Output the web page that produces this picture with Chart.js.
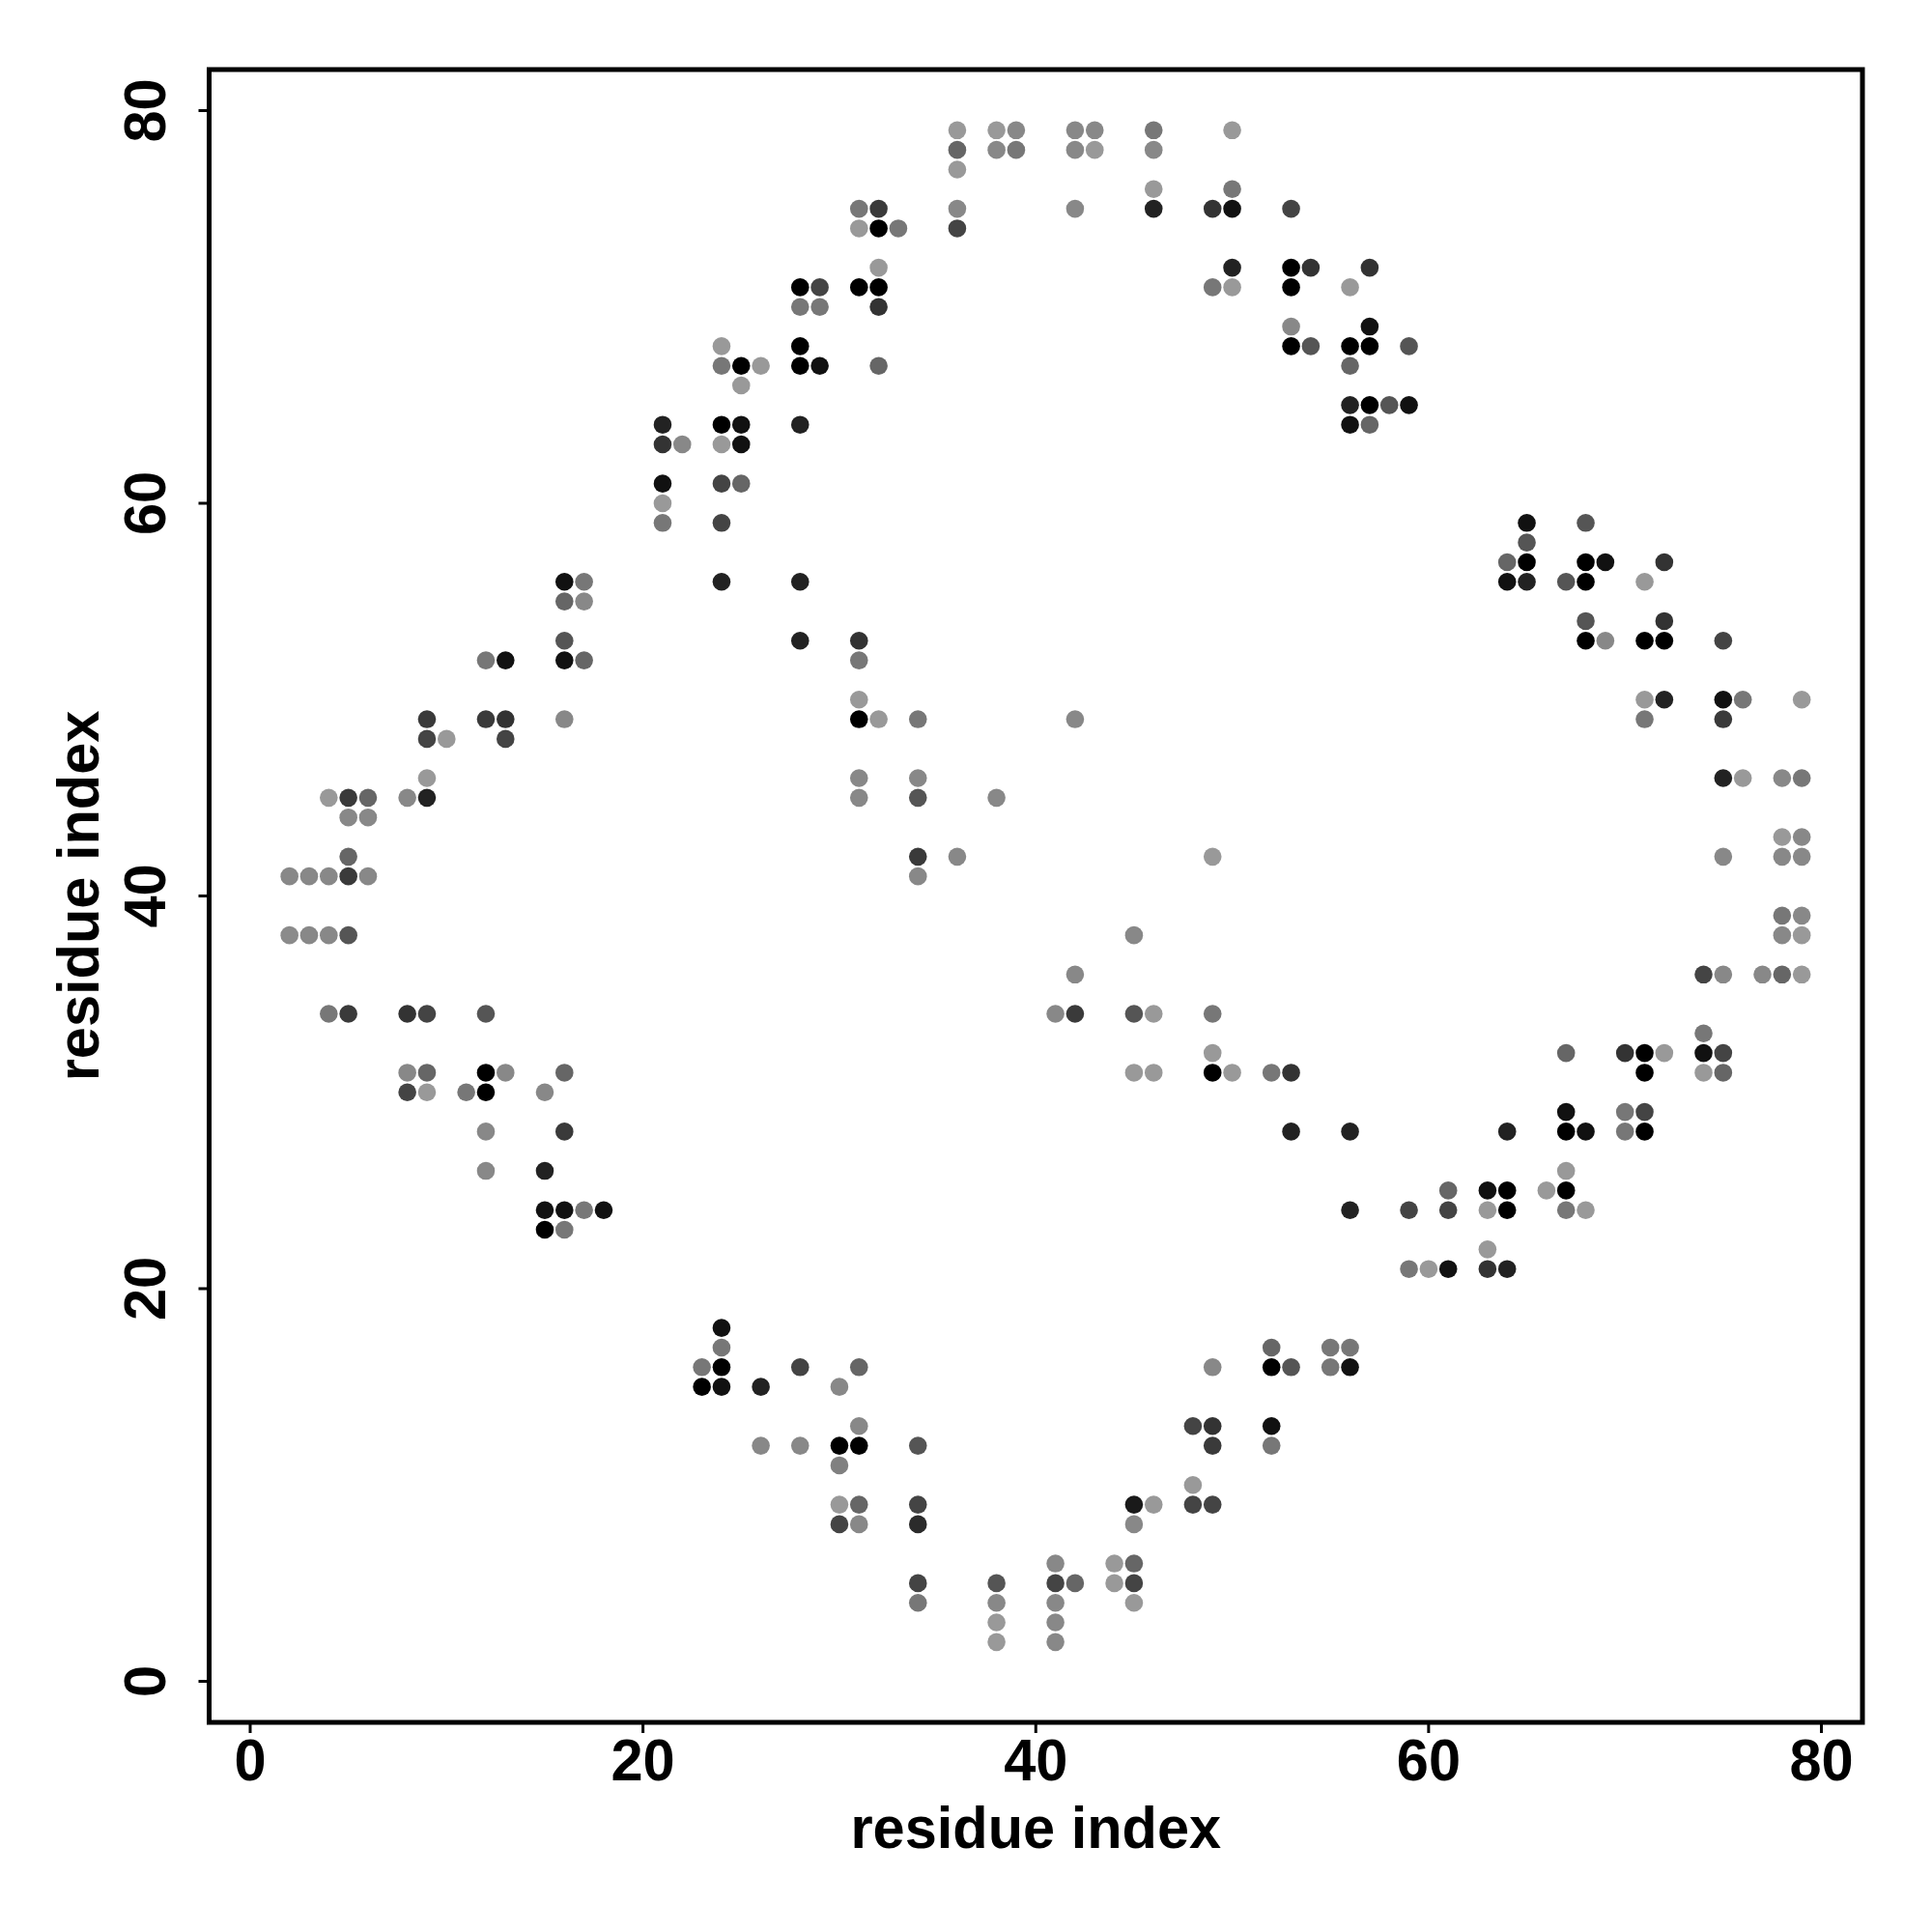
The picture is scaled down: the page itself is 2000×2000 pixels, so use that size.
<!DOCTYPE html>
<html>
<head>
<meta charset="utf-8">
<script src="https://cdn.jsdelivr.net/npm/chart.js@4"></script>
<style>
html,body{margin:0;padding:0;background:#fff;}
#wrap{width:2000px;height:2000px;}
</style>
</head>
<body>
<div id="wrap"><canvas id="c" width="2000" height="2000"></canvas></div>
<script>
// residue pairs (i = x, j = y) and contact score (darker = higher)
const residueI = [
 2,3,4,5,6,5,2,3,4,5,5,6,4,5,6,8,9,9,9,10,9,12,13,13,16,12,13,16,17,16,16,17,16,17,
 21,21,21,21,22,21,24,25,24,25,24,25,24,24,24,24,25,26,25,28,28,29,28,28,29,28,29,31,32,32,32,
 31,32,33,31,32,32,36,36,36,36,36,38,39,38,39,42,43,42,43,42,46,46,46,46,50,50,50,49,53,50,49,50,
 53,54,53,57,56,53,53,54,57,56,57,59,56,56,57,58,59,56,57,
 65,68,65,64,65,64,65,68,69,67,68,72,71,68,72,68,69,71,72,75,71,72,75,76,79,71,75,75,76,78,79,
 78,79,75,78,79,78,79,78,79,74,75,77,78,79,74,67,70,71,72,74,75,71,74,75,67,70,71,64,67,68,70,71,
 67,61,63,64,66,67,56,59,61,63,64,67,68,63,59,60,61,63,64,55,56,52,52,53,55,56,49,52,52,48,49,49,
 48,48,49,45,46,45,44,45,44,45,45,41,41,42,41,41,41,38,38,38,38,34,34,34,34,34,30,31,30,31,30,30,
 31,31,30,31,28,28,26,26,23,24,23,24,24,24,
 15,12,15,16,17,18,15,16,12,16,8,9,11,12,15,8,9,12,13,16,4,5,8,9,12,
 28,28,31,31,31,31,32,34,42,31,34,31,34,38,34,36,49,34,45,42,41,42,45,46,49,49,45,46,49,50,52,53,53,56
];
const residueJ = [
 41,41,41,41,41,42,38,38,38,38,44,44,45,45,45,45,45,46,48,48,49,49,49,48,49,52,52,52,52,53,55,55,56,56,
 59,60,61,63,63,64,63,63,64,64,61,61,59,56,68,67,67,67,66,64,67,67,68,70,70,71,71,71,71,70,72,
 74,74,74,75,75,67,74,75,77,78,79,79,79,78,78,79,79,78,78,75,79,78,76,75,79,76,75,75,75,72,71,71,
 72,72,71,72,71,69,68,68,69,68,68,68,67,65,65,65,65,64,64,
 59,59,58,57,57,56,56,57,57,56,56,57,56,54,54,53,53,53,53,53,50,50,50,50,50,49,49,46,46,46,46,
 43,43,42,42,42,39,39,38,38,36,36,36,36,36,33,32,32,32,32,32,32,31,31,31,29,29,29,28,28,28,28,28,
 26,25,25,25,25,25,24,24,24,24,24,24,24,22,21,21,21,21,21,17,17,17,16,16,16,16,16,13,12,13,13,12,
 10,9,9,9,9,8,6,6,5,5,4,6,5,5,4,3,2,5,4,3,2,5,4,9,8,12,9,9,8,8,11,12,
 12,13,15,16,16,12,12,15,16,16,15,15,17,18,
 26,26,24,24,24,24,23,23,28,28,30,30,30,30,30,31,31,31,31,31,34,34,34,34,34,
 56,53,53,52,50,49,49,49,49,46,46,45,45,45,42,42,42,41,38,36,34,34,34,34,34,32,31,31,31,31,31,31,28,28
];
const contactScore = [
 0.20,0.20,0.20,0.66,0.20,0.40,0.18,0.20,0.20,0.50,0.20,0.20,0.10,0.66,0.40,0.20,0.80,0.10,0.60,0.10,0.66,0.66,0.70,0.60,0.20,0.30,0.90,0.90,0.40,0.50,0.40,0.20,0.90,0.30,
 0.30,0.10,0.90,0.70,0.20,0.80,0.10,0.90,1.00,0.90,0.60,0.40,0.60,0.80,0.10,0.30,1.00,0.10,0.10,0.80,1.00,0.90,1.00,0.30,0.30,1.00,0.60,1.00,1.00,0.70,0.10,
 0.10,1.00,0.30,0.30,0.66,0.40,0.60,0.20,0.10,0.40,0.10,0.10,0.20,0.20,0.30,0.20,0.20,0.20,0.10,0.20,0.30,0.20,0.10,0.80,0.10,0.30,0.90,0.70,0.60,0.80,0.30,0.10,
 1.00,0.70,1.00,0.70,0.10,0.20,1.00,0.50,0.90,1.00,1.00,0.50,0.40,0.80,1.00,0.50,0.90,0.90,0.40,
 0.90,0.50,0.50,0.40,1.00,0.90,0.80,1.00,0.90,0.50,1.00,0.70,0.10,0.50,0.70,1.00,0.20,1.00,1.00,0.60,0.10,0.80,0.90,0.30,0.10,0.30,0.66,0.80,0.10,0.20,0.30,
 0.10,0.20,0.20,0.20,0.20,0.30,0.20,0.20,0.10,0.60,0.20,0.20,0.40,0.10,0.30,0.40,0.70,1.00,0.10,0.90,0.60,1.00,0.10,0.40,0.90,0.30,0.60,0.80,1.00,0.90,0.30,1.00,
 0.10,0.40,0.90,1.00,0.10,1.00,0.80,0.60,0.60,0.10,1.00,0.30,0.10,0.10,0.30,0.10,0.90,0.70,0.80,0.30,0.30,0.40,1.00,0.50,0.30,0.90,0.20,0.90,0.30,0.60,0.70,0.66,
 0.10,0.60,0.60,0.85,0.10,0.20,0.10,0.40,0.10,0.60,0.10,0.20,0.60,0.40,0.20,0.20,0.20,0.50,0.20,0.10,0.10,0.60,0.30,0.60,0.75,0.50,0.10,0.40,0.60,0.20,0.25,1.00,
 1.00,0.20,0.20,0.40,0.60,0.20,0.20,0.80,0.30,1.00,1.00,0.90,0.30,0.90,
 0.80,0.20,0.90,0.90,0.30,0.90,1.00,0.30,0.20,0.66,0.60,0.10,0.30,1.00,0.20,0.20,0.40,1.00,0.20,0.40,0.30,0.66,0.70,0.60,0.50,
 0.80,0.80,0.70,0.30,0.10,1.00,0.10,0.30,0.20,0.20,0.20,0.20,0.50,0.20,0.66,0.20,0.10,0.20,0.20,0.20,0.20,0.66,0.50,0.10,0.30,0.10,0.10,0.10,1.00,0.10,0.30,0.70,0.80,0.80
];
const tickValues = [0, 20, 40, 60, 80];
const axisTitleX = 'residue index';
const axisTitleY = 'residue index';

function shade(s){ const g = Math.round(170 * (1 - s)); return 'rgb(' + g + ',' + g + ',' + g + ')'; }

const points = residueI.map((x, k) => ({x: x, y: residueJ[k]}));
const colors = contactScore.map(shade);

const FONT = 'bold 62px "Liberation Sans", Arial, Helvetica, sans-serif';
const SQUEEZE = 0.96;

function drawText(ctx, txt, x, y, rot){
  ctx.save();
  ctx.translate(x, y);
  if (rot) ctx.rotate(rot);
  ctx.scale(SQUEEZE, 1);
  ctx.fillText(txt, 0, 0);
  ctx.restore();
}

const framePlugin = {
  id: 'frame',
  afterDraw(chart){
    const ctx = chart.ctx, a = chart.chartArea;
    const xs = chart.scales.x, ys = chart.scales.y;
    ctx.save();
    ctx.strokeStyle = '#000';
    ctx.fillStyle = '#000';
    ctx.lineWidth = 5;
    ctx.lineJoin = 'miter';
    ctx.strokeRect(a.left, a.top, a.right - a.left, a.bottom - a.top);
    ctx.lineWidth = 3;
    ctx.font = FONT;
    ctx.textAlign = 'center';
    ctx.textBaseline = 'alphabetic';
    tickValues.forEach(v => {
      const px = xs.getPixelForValue(v);
      ctx.beginPath(); ctx.moveTo(px, a.bottom); ctx.lineTo(px, a.bottom + 11); ctx.stroke();
      drawText(ctx, String(v), px, 1843, 0);
    });
    tickValues.forEach(v => {
      const py = ys.getPixelForValue(v);
      ctx.beginPath(); ctx.moveTo(a.left, py); ctx.lineTo(a.left - 11, py); ctx.stroke();
      drawText(ctx, String(v), 171, py, -Math.PI / 2);
    });
    drawText(ctx, axisTitleX, (a.left + a.right) / 2, 1913, 0);
    drawText(ctx, axisTitleY, 102, (a.top + a.bottom) / 2, -Math.PI / 2);
    ctx.restore();
  }
};

new Chart(document.getElementById('c'), {
  type: 'scatter',
  data: {
    datasets: [{
      data: points,
      pointBackgroundColor: colors,
      pointBorderWidth: 0,
      pointBorderColor: 'rgba(0,0,0,0)',
      pointRadius: 9.3,
      pointHoverRadius: 9.3
    }]
  },
  options: {
    responsive: false,
    animation: false,
    devicePixelRatio: 1,
    layout: { padding: { left: 216.5, top: 72, right: 72, bottom: 217 } },
    plugins: { legend: { display: false }, tooltip: { enabled: false } },
    scales: {
      x: { type: 'linear', min: -2.09, max: 82.09, display: false },
      y: { type: 'linear', min: -2.09, max: 82.09, display: false }
    }
  },
  plugins: [framePlugin]
});
</script>
</body>
</html>
